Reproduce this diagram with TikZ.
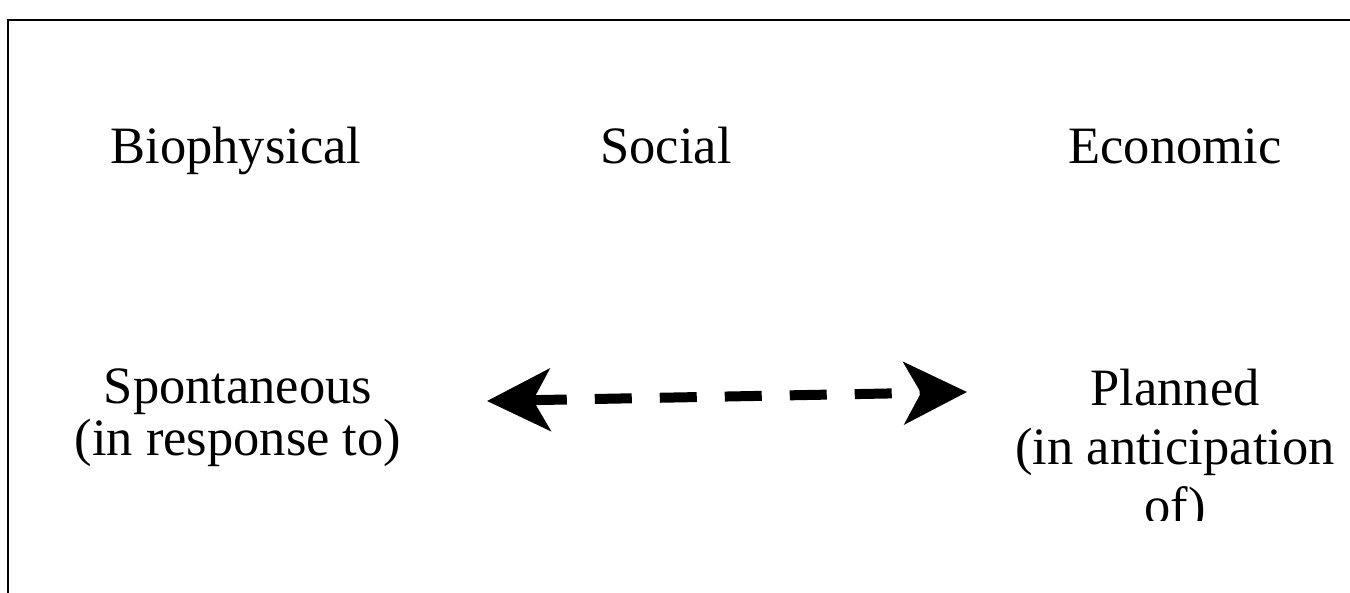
\documentclass[tikz,border=0pt]{standalone}
\usepackage{fontspec}
\setmainfont{Liberation Serif}
\usepackage{xcolor}
\definecolor{inkblack}{RGB}{0, 0, 0}
\usepackage{tikz}
\usetikzlibrary{arrows.meta, positioning}

\begin{document}
\begin{tikzpicture}[x=1pt, y=-1pt, >=Stealth,
    label text/.style={inkblack, anchor=base, align=center, inner sep=0pt,
        font=\fontsize{52.5}{56}\selectfont},
    big tip/.style={line width=10pt, dash pattern=on 37pt off 28pt,
        {Stealth[length=63pt, width=62pt, inset=17pt]}-{Stealth[length=63pt, width=62pt, inset=17pt]}}]
    \useasboundingbox (0,0) rectangle (1350,592);
    % frame, running off the page right and below
    \draw[line width=2pt, inkblack] (8,20) rectangle (1370,620);
    % three kinds of adaptation
    \node[label text] (bio) at (236,163) {Biophysical};
    \node[label text] (soc) at (666,163) {Social};
    \node[label text] (eco) at (1175,163) {Economic};
    % spontaneous versus planned (base = last line)
    \node[label text, font=\fontsize{52.5}{52}\selectfont] (spont) at (238,455) {Spontaneous\\(in response to)};
    \begin{scope}
        \clip (0,0) rectangle (1350,520);
        \node[label text, font=\fontsize{52.5}{59}\selectfont] (plan) at (1175,523) {Planned\\(in anticipation\\of)};
    \end{scope}
    \coordinate (lefttip) at (487,401);
    \coordinate (righttip) at (967,392);
    \draw[big tip, inkblack] (lefttip) -- (righttip);
\end{tikzpicture}
\end{document}
